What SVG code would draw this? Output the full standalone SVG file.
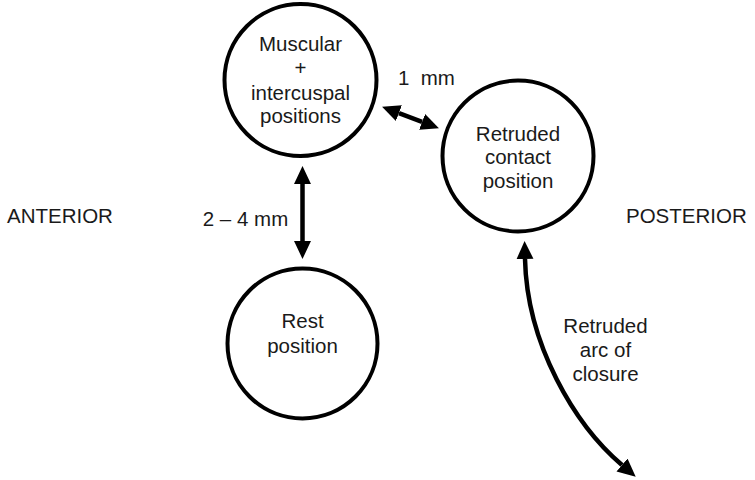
<svg xmlns="http://www.w3.org/2000/svg" width="755" height="480" viewBox="0 0 755 480">
<style>
.node{fill:#fff;stroke:#000;stroke-width:4}
text{font-family:"Liberation Sans",Arial,sans-serif;font-size:20.5px;fill:#1a1a1a}
.c{text-anchor:middle}
.conn{fill:none;stroke:#000;stroke-width:4.5}
</style>
<defs>
<marker id="ah" markerUnits="userSpaceOnUse" markerWidth="18" markerHeight="18" refX="0" refY="8" viewBox="0 0 17 16" orient="auto-start-reverse">
<path d="M0,0 L17,8 L0,16 Z" fill="#000"/>
</marker>
</defs>
<rect width="755" height="480" fill="#fff"/>
<g id="n-muscular">
<circle class="node" cx="300.5" cy="80" r="76"/>
<text class="c" x="300.5" y="51">Muscular</text>
<text class="c" x="300.5" y="75">+</text>
<text class="c" x="300.5" y="100">intercuspal</text>
<text class="c" x="300.5" y="123">positions</text>
</g>
<g id="n-retruded">
<circle class="node" cx="518" cy="156" r="75.5"/>
<text class="c" x="518" y="141">Retruded</text>
<text class="c" x="518" y="164">contact</text>
<text class="c" x="518" y="188">position</text>
</g>
<g id="n-rest">
<circle class="node" cx="302.5" cy="343.5" r="75"/>
<text class="c" x="302.5" y="328">Rest</text>
<text class="c" x="302.5" y="353">position</text>
</g>
<g id="labels">
<text x="7" y="223">ANTERIOR</text>
<text x="626" y="223">POSTERIOR</text>
<text x="398" y="85">1&#160; mm</text>
<text class="c" x="245.5" y="226">2 – 4 mm</text>
<text class="c" x="605.5" y="333">Retruded</text>
<text class="c" x="605.5" y="357">arc of</text>
<text class="c" x="605.5" y="381">closure</text>
</g>
<g id="connectors">
<path class="conn" d="M302.5,184 L302.5,241" marker-start="url(#ah)" marker-end="url(#ah)"/>
<path class="conn" d="M398.9,113.1 L422.1,121.9" marker-start="url(#ah)" marker-end="url(#ah)"/>
<path class="conn" d="M525,259 C527,345 575,425 622,465" marker-start="url(#ah)" marker-end="url(#ah)"/>
</g>
</svg>
